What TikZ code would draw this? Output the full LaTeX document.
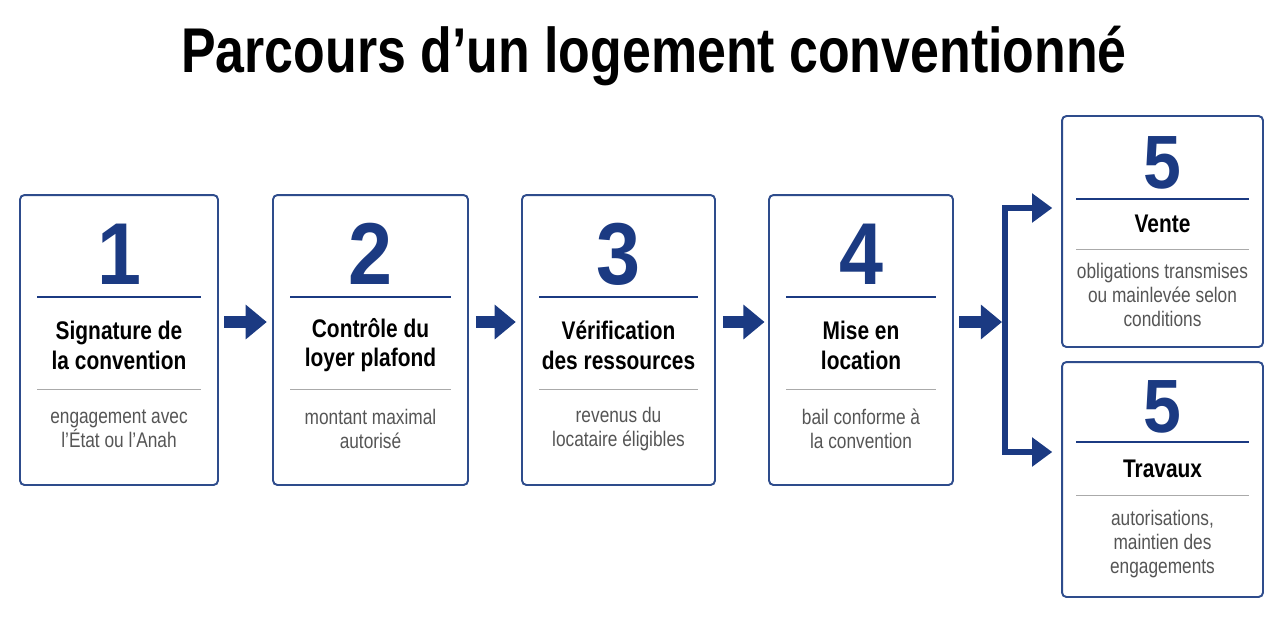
\documentclass[tikz,border=0pt]{standalone}
\usepackage{fontspec}
\setmainfont{Liberation Sans}
\newfontfamily\condfont{Liberation Sans}[FakeStretch=0.82]
\newfontfamily\numfont{Liberation Sans}[FakeStretch=0.9]
\usetikzlibrary{arrows.meta,calc,positioning}

\definecolor{navy}{HTML}{1B3A82}
\definecolor{cardline}{HTML}{2E4C8C}
\definecolor{desctext}{HTML}{555555}
\definecolor{greyrule}{HTML}{AAAAAA}

\tikzset{
  card/.style={draw=cardline, line width=1.1pt, rounded corners=2.5pt, fill=white},
  stepnum/.style={text=navy, font=\numfont\bfseries\fontsize{50}{50}\selectfont},
  endnum/.style={text=navy, font=\numfont\bfseries\fontsize{43}{43}\selectfont},
  steptitle/.style={align=center, text=black, font=\condfont\bfseries\fontsize{14.5}{17}\selectfont},
  stepdesc/.style={align=center, text=desctext, font=\condfont\fontsize{12}{13.7}\selectfont},
  numrule/.style={draw=navy, line width=0.8pt},
  descrule/.style={draw=greyrule, line width=0.6pt},
  flow/.style={draw=navy, line width=6.8pt, -{Triangle[length=12pt,width=19pt]}},
  fork/.style={draw=navy, line width=3.4pt},
}

\begin{document}
\begin{tikzpicture}[x=0.02cm, y=-0.02cm]

    % Canvas
    \useasboundingbox (0,0) rectangle (1280,640);

    % Title
    \node (title) at (654,56) {\condfont\bfseries\fontsize{36}{36}\selectfont Parcours d’un logement conventionné};

    % Step cards
    \node[card, minimum width=3.96cm, minimum height=5.8cm] (box1) at (119,340) {};
    \node[card, minimum width=3.90cm, minimum height=5.8cm] (box2) at (370.5,340) {};
    \node[card, minimum width=3.86cm, minimum height=5.8cm] (box3) at (618.5,340) {};
    \node[card, minimum width=3.68cm, minimum height=5.8cm] (box4) at (861,340) {};
    \node[card, minimum width=4.02cm, minimum height=4.62cm] (box5a) at (1162.5,231.5) {};
    \node[card, minimum width=4.02cm, minimum height=4.70cm] (box5b) at (1162.5,479.5) {};

    % Card 1
    \node[stepnum] (num1) at ($(box1.north)+(0,60)$) {1};
    \draw[numrule] ($(box1.north west)+(18,103)$) -- ($(box1.north east)+(-18,103)$);
    \node[steptitle] (head1) at ($(box1.north)+(0,151)$) {Signature de\\la convention};
    \draw[descrule] ($(box1.north west)+(18,195)$) -- ($(box1.north east)+(-18,195)$);
    \node[stepdesc] (text1) at ($(box1.north)+(0,235)$) {engagement avec\\l’État ou l’Anah};

    % Card 2
    \node[stepnum] (num2) at ($(box2.north)+(0,60)$) {2};
    \draw[numrule] ($(box2.north west)+(18,103)$) -- ($(box2.north east)+(-18,103)$);
    \node[steptitle] (head2) at ($(box2.north)+(0,151)$) {Contrôle du\\loyer plafond};
    \draw[descrule] ($(box2.north west)+(18,195)$) -- ($(box2.north east)+(-18,195)$);
    \node[stepdesc] (text2) at ($(box2.north)+(0,235)$) {montant maximal\\autorisé};

    % Card 3
    \node[stepnum] (num3) at ($(box3.north)+(0,60)$) {3};
    \draw[numrule] ($(box3.north west)+(18,103)$) -- ($(box3.north east)+(-18,103)$);
    \node[steptitle] (head3) at ($(box3.north)+(0,151)$) {Vérification\\des ressources};
    \draw[descrule] ($(box3.north west)+(18,195)$) -- ($(box3.north east)+(-18,195)$);
    \node[stepdesc] (text3) at ($(box3.north)+(0,235)$) {revenus du\\locataire éligibles};

    % Card 4
    \node[stepnum] (num4) at ($(box4.north)+(0,60)$) {4};
    \draw[numrule] ($(box4.north west)+(18,103)$) -- ($(box4.north east)+(-18,103)$);
    \node[steptitle] (head4) at ($(box4.north)+(0,151)$) {Mise en\\location};
    \draw[descrule] ($(box4.north west)+(18,195)$) -- ($(box4.north east)+(-18,195)$);
    \node[stepdesc] (text4) at ($(box4.north)+(0,235)$) {bail conforme à\\la convention};

    % Card 5 (sale)
    \node[endnum] (num5a) at ($(box5a.north)+(0,48)$) {5};
    \draw[numrule] ($(box5a.north west)+(15,84)$) -- ($(box5a.north east)+(-15,84)$);
    \node[steptitle] (head5a) at ($(box5a.north)+(0,109)$) {Vente};
    \draw[descrule] ($(box5a.north west)+(15,134)$) -- ($(box5a.north east)+(-15,134)$);
    \node[stepdesc] (text5a) at ($(box5a.north)+(0,180)$) {obligations transmises\\ou mainlevée selon\\conditions};

    % Card 5 (works)
    \node[endnum] (num5b) at ($(box5b.north)+(0,46)$) {5};
    \draw[numrule] ($(box5b.north west)+(15,81)$) -- ($(box5b.north east)+(-15,81)$);
    \node[steptitle] (head5b) at ($(box5b.north)+(0,108)$) {Travaux};
    \draw[descrule] ($(box5b.north west)+(15,134)$) -- ($(box5b.north east)+(-15,134)$);
    \node[stepdesc] (text5b) at ($(box5b.north)+(0,183)$) {autorisations,\\maintien des\\engagements};

    % Arrows between cards (a little above the card centres)
    \coordinate (row) at (0,322);
    \draw[flow, shorten <=3pt, shorten >=3pt] (box1.east |- row) -- (box2.west |- row);
    \draw[flow, shorten <=4pt, shorten >=3pt] (box2.east |- row) -- (box3.west |- row);
    \draw[flow, shorten <=4pt, shorten >=2pt] (box3.east |- row) -- (box4.west |- row);

    % Fork to the two outcomes
    \coordinate (forktop) at (1005,208);
    \coordinate (forkbot) at (1005,452);
    \coordinate (forkmid) at (1002,322);
    \draw[flow, shorten <=3pt] (box4.east |- row) -- (forkmid);
    \draw[fork, line cap=rect] (forktop) -- (forkbot);
    \draw[fork, -{Triangle[length=11.5pt,width=16pt]}, shorten >=5pt] (forktop) -- (forktop -| box5a.west);
    \draw[fork, -{Triangle[length=11.5pt,width=16pt]}, shorten >=5pt] (forkbot) -- (forkbot -| box5b.west);

\end{tikzpicture}
\end{document}
